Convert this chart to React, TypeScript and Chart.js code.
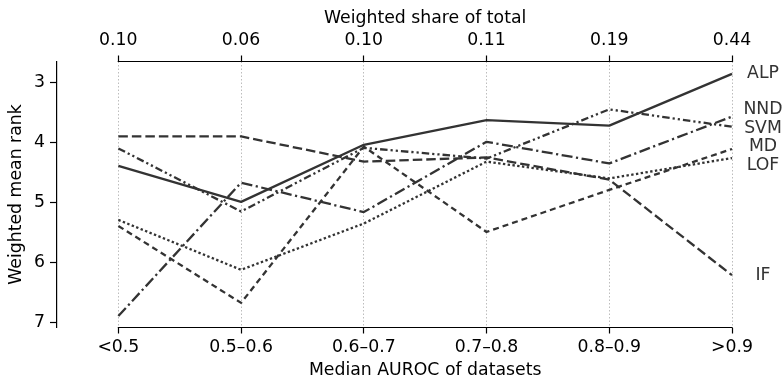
import React, { useEffect, useRef } from 'react';
import { Chart, registerables } from 'chart.js';

Chart.register(...registerables);

// ---- data ----
const categories = ['<0.5', '0.5–0.6', '0.6–0.7', '0.7–0.8', '0.8–0.9', '>0.9'];
const shareLabels = ['0.10', '0.06', '0.10', '0.11', '0.19', '0.44'];
const rankTicks = [3, 4, 5, 6, 7];
const methodNames = ['ALP', 'NND', 'SVM', 'MD', 'LOF', 'IF'];
const ALP = [4.39, 4.99, 4.04, 3.63, 3.72, 2.86];
const NND = [6.89, 4.67, 5.16, 3.99, 4.35, 3.57];
const SVM = [4.10, 5.15, 4.09, 4.27, 3.45, 3.74];
const MD = [5.39, 6.67, 4.07, 5.49, 4.79, 4.11];
const LOF = [5.29, 6.12, 5.35, 4.32, 4.60, 4.26];
const IF = [3.90, 3.90, 4.32, 4.25, 4.62, 6.21];
const seriesValues = [ALP, NND, SVM, MD, LOF, IF];

// ---- styles ----
const dashStyles: number[][] = [
  [],
  [11, 3.5, 2.2, 3.5],
  [7.5, 3, 2.2, 3, 2.2, 3],
  [6, 4],
  [2.4, 2.4],
  [9.5, 4],
];
const FONT = 'DejaVu Sans';
const FS = 17.3;
const INK = '#333333';

export default function App() {
  const ref = useRef<HTMLCanvasElement>(null);

  useEffect(() => {
    document.body.style.margin = '0';
    const canvas = ref.current!;

    const overlay = {
      id: 'overlay',
      afterDraw(chart: any) {
        const ctx = chart.ctx as CanvasRenderingContext2D;
        const xs = chart.scales.x;
        const ys = chart.scales.y;
        const ca = chart.chartArea;
        const x0 = xs.getPixelForValue(0);
        const xN = xs.getPixelForValue(categories.length - 1);
        ctx.save();
        // bounded x spines (top & bottom)
        ctx.strokeStyle = '#000';
        ctx.lineWidth = 1.2;
        ctx.lineCap = 'square';
        ctx.setLineDash([]);
        ctx.beginPath();
        ctx.moveTo(x0, ca.top);
        ctx.lineTo(xN, ca.top);
        ctx.moveTo(x0, ca.bottom);
        ctx.lineTo(xN, ca.bottom);
        ctx.stroke();
        // x axis titles centred on the category span
        ctx.fillStyle = '#000';
        ctx.font = `${FS}px "${FONT}"`;
        ctx.textAlign = 'center';
        ctx.textBaseline = 'middle';
        ctx.fillText('Weighted share of total', (x0 + xN) / 2, 19);
        ctx.fillText('Median AUROC of datasets', (x0 + xN) / 2, chart.height - 9);
        // end labels with simple repel
        const last = categories.length - 1;
        const items = methodNames.map((name, i) => ({
          name,
          y: ys.getPixelForValue(seriesValues[i][last]),
        }));
        items.sort((a, b) => a.y - b.y);
        const gap = 18.5;
        for (let it = 0; it < 200; it++) {
          let moved = false;
          for (let k = 0; k < items.length - 1; k++) {
            const d = items[k + 1].y - items[k].y;
            if (d < gap - 0.01) {
              const s = (gap - d) / 2;
              items[k].y -= s;
              items[k + 1].y += s;
              moved = true;
            }
          }
          if (!moved) break;
        }
        ctx.fillStyle = INK;
        items.forEach((it) => ctx.fillText(it.name, xN + 31, it.y));
        ctx.restore();
      },
    };

    const tickFont = { family: FONT, size: FS };

    const chart = new Chart(canvas, {
      type: 'line',
      data: {
        datasets: methodNames.map((name, i) => ({
          label: name,
          data: seriesValues[i].map((v, j) => ({ x: j, y: v })),
          borderColor: INK,
          borderWidth: 2.3,
          borderDash: dashStyles[i],
          borderCapStyle: 'butt' as const,
          borderJoinStyle: 'round' as const,
          pointRadius: 0,
          tension: 0,
          fill: false,
          clip: false as any,
        })),
      },
      options: {
        animation: false,
        responsive: false,
        devicePixelRatio: 1,
        layout: { padding: { left: 0, right: 50, top: 0, bottom: 0 } },
        plugins: {
          legend: { display: false },
          tooltip: { enabled: false },
          title: { display: false },
        },
        scales: {
          x: {
            type: 'linear',
            position: 'bottom',
            min: -0.5,
            max: categories.length - 1,
            afterBuildTicks: (s: any) => {
              s.ticks = categories.map((_, i) => ({ value: i }));
            },
            afterFit: (s: any) => {
              s.height = 52.5;
            },
            ticks: {
              callback: (v: any) => categories[v] ?? '',
              font: tickFont,
              color: '#000',
              padding: 4,
              maxRotation: 0,
              autoSkip: false,
            },
            grid: {
              display: true,
              drawOnChartArea: true,
              color: '#bdbdbd',
              lineWidth: 1,
              drawTicks: true,
              tickLength: 6,
              tickColor: '#000',
              tickWidth: 1.2,
            },
            border: { display: false, dash: [1.5, 2] },
          },
          x2: {
            type: 'linear',
            position: 'top',
            min: -0.5,
            max: categories.length - 1,
            afterBuildTicks: (s: any) => {
              s.ticks = shareLabels.map((_, i) => ({ value: i }));
            },
            afterFit: (s: any) => {
              s.height = 61.5;
            },
            ticks: {
              callback: (v: any) => shareLabels[v] ?? '',
              font: tickFont,
              color: '#000',
              padding: 5,
              maxRotation: 0,
              autoSkip: false,
            },
            grid: {
              display: true,
              drawOnChartArea: false,
              drawTicks: true,
              tickLength: 6,
              tickColor: '#000',
              tickWidth: 1.2,
            },
            border: { display: false },
          },
          y: {
            type: 'linear',
            position: 'left',
            reverse: true,
            min: 2.654,
            max: 7.08,
            afterBuildTicks: (s: any) => {
              s.ticks = rankTicks.map((v) => ({ value: v }));
            },
            afterFit: (s: any) => {
              s.width = 57;
            },
            ticks: {
              callback: (v: any) => String(v),
              font: tickFont,
              color: '#000',
              padding: 5,
            },
            grid: {
              display: true,
              drawOnChartArea: false,
              drawTicks: true,
              tickLength: 7,
              tickColor: '#000',
              tickWidth: 1.2,
            },
            border: { display: true, color: '#000', width: 1.2 },
            title: {
              display: true,
              text: 'Weighted mean rank',
              font: tickFont,
              color: '#000',
              padding: { top: 6, bottom: 0 },
            },
          },
        },
      } as any,
      plugins: [overlay],
    });

    return () => chart.destroy();
  }, []);

  return (
    <div style={{ width: 782, height: 380 }}>
      <canvas ref={ref} width={782} height={380} style={{ display: 'block' }} />
    </div>
  );
}
